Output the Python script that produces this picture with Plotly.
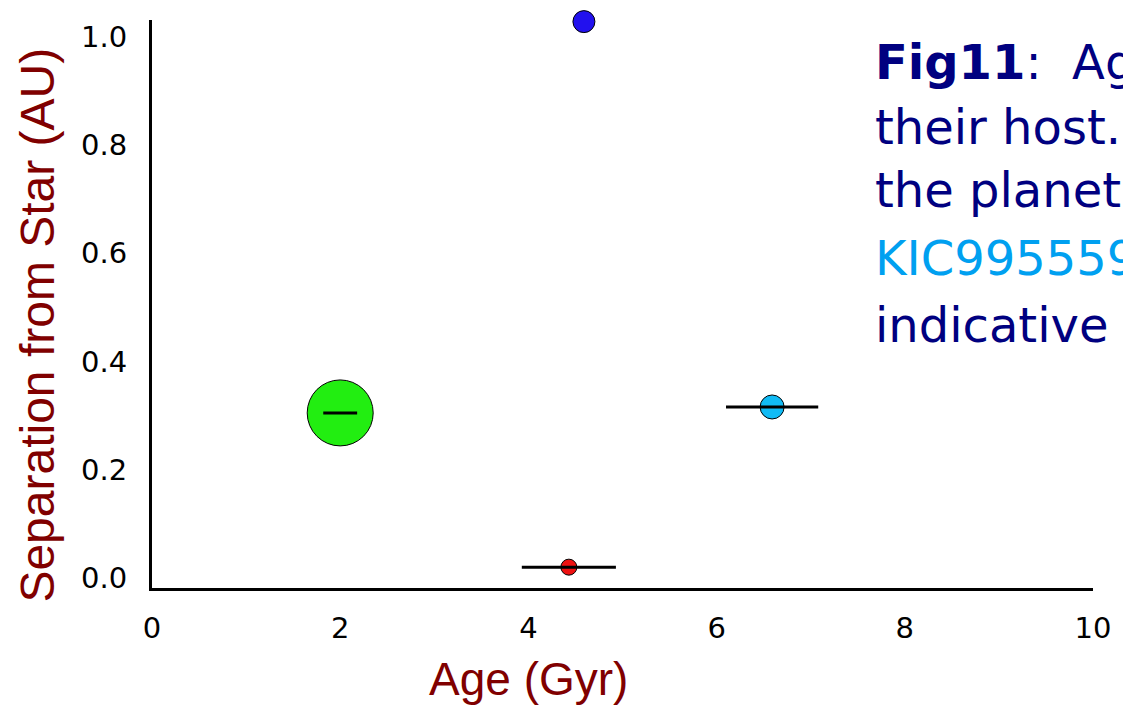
import plotly.graph_objects as go

# Data
ages = [2.0, 4.43, 6.59, 4.59]
age_err = [0.18, 0.5, 0.49, 0.0]
separations = [0.305, 0.020, 0.316, 1.028]
marker_colors = ["#22EE11", "#EE1111", "#11BBF5", "#2211EE"]
marker_sizes = [66, 16, 24, 22]
x_ticks = [0, 2, 4, 6, 8, 10]
y_ticks = [0.0, 0.2, 0.4, 0.6, 0.8, 1.0]
y_ticklabels = ["0.0", "0.2", "0.4", "0.6", "0.8", "1.0"]

fig = go.Figure()
fig.add_trace(go.Scatter(
    x=ages, y=separations, mode="markers",
    marker=dict(color=marker_colors, size=marker_sizes, opacity=1,
                line=dict(color="black", width=1)),
    cliponaxis=False, showlegend=False, hoverinfo="skip"))
# error bars drawn on top of the markers
fig.add_trace(go.Scatter(
    x=ages[:3], y=separations[:3], mode="markers",
    marker=dict(size=1, opacity=0),
    error_x=dict(type="data", array=age_err[:3], color="black", thickness=3, width=0),
    cliponaxis=False, showlegend=False, hoverinfo="skip"))

tick_font = dict(family="DejaVu Sans", size=29, color="black")
fig.update_layout(
    width=1123, height=705,
    margin=dict(l=152, r=25, t=20, b=117),
    paper_bgcolor="white", plot_bgcolor="white",
    xaxis=dict(range=[0, 10], tickvals=x_ticks, showgrid=False, zeroline=False,
               showline=True, linecolor="black", linewidth=3, ticks="",
               tickfont=tick_font, ticklabelstandoff=12),
    yaxis=dict(range=[-0.0185, 1.031], tickvals=y_ticks, ticktext=y_ticklabels,
               showgrid=False, zeroline=False,
               showline=True, linecolor="black", linewidth=3, ticks="",
               tickfont=tick_font, ticklabelstandoff=16),
)

title_color = "#800000"
title_family = "Liberation Sans Narrow, Arial Narrow, Liberation Sans"
fig.add_annotation(text="Age (Gyr)", xref="paper", yref="paper",
                   x=(530 - 152) / 946, y=(588 - 679) / 568, showarrow=False,
                   font=dict(family=title_family, size=46, color=title_color),
                   xanchor="center", yanchor="middle")
fig.add_annotation(text="Separation from Star (AU)", xref="paper", yref="paper",
                   x=(36 - 152) / 946, y=(588 - 325) / 568, showarrow=False,
                   font=dict(family=title_family, size=48, color=title_color),
                   textangle=-90, xanchor="center", yanchor="middle")

navy = "#000080"
lines = [("<b>Fig11</b>:  Age", navy, 62),
         ("their host.", navy, 127),
         ("the planet", navy, 190),
         ("KIC9955598", "#00A0F0", 258),
         ("indicative", navy, 325)]
for txt, col, ypx in lines:
    fig.add_annotation(text=txt, xref="paper", yref="paper",
                       x=(877 - 152) / 946, y=(588 - ypx) / 568, showarrow=False,
                       xanchor="left", yanchor="middle",
                       font=dict(family="DejaVu Sans", size=48, color=col))

fig.write_html("out.html")
